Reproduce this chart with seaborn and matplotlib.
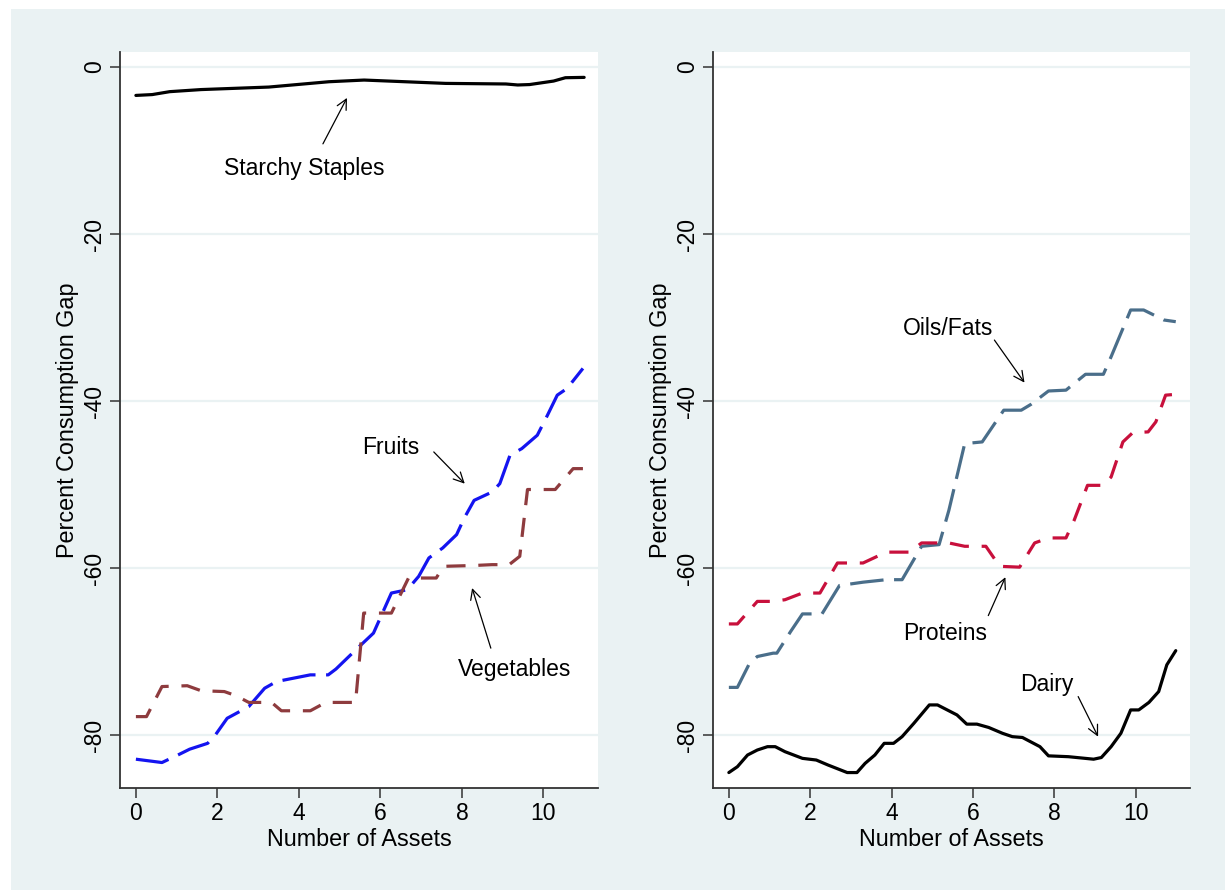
import numpy as np
import pandas as pd
import matplotlib
matplotlib.use("Agg")
import matplotlib.pyplot as plt
from matplotlib.patches import Rectangle
import seaborn as sns

# ---------------- data ----------------
staples_x = [0, 0.4, 0.83, 1.6, 3.26, 4.74, 5.6, 7.6, 9.08, 9.37, 9.66, 10.25, 10.54, 11]
staples_y = [-3.4, -3.3, -2.95, -2.7, -2.4, -1.76, -1.56, -1.96, -2.03, -2.15, -2.1, -1.68, -1.28, -1.24]

fruits_x = [0, 0.64, 1.03, 1.32, 1.76, 1.95, 2.24, 2.77, 3.16, 3.45, 4.28, 4.72, 4.91, 5.44, 5.83,
            6.27, 6.66, 6.94, 7.19, 7.53, 7.87, 8.06, 8.30, 8.74, 8.93, 9.18, 9.47, 9.85, 10.1,
            10.34, 10.58, 10.97]
fruits_y = [-82.9, -83.3, -82.4, -81.7, -81.0, -80.0, -78.0, -76.6, -74.4, -73.6, -72.8, -72.8,
            -72.1, -69.6, -67.8, -63.0, -62.6, -61.0, -58.8, -57.6, -56.0, -54.0, -51.9, -50.9,
            -49.9, -46.5, -45.7, -44.1, -41.7, -39.3, -38.5, -36.1]

veg_x = [0, 0.26, 0.64, 1.26, 1.6, 2.17, 2.46, 2.77, 3.33, 3.57, 4.28, 4.66, 5.39, 5.59, 6.27,
         6.69, 7.37, 7.55, 8.3, 8.74, 9.16, 9.42, 9.61, 10.29, 10.73, 10.97]
veg_y = [-77.8, -77.8, -74.2, -74.1, -74.7, -74.8, -75.3, -76.1, -76.1, -77.1, -77.1, -76.1,
         -76.1, -65.4, -65.4, -61.2, -61.2, -59.8, -59.7, -59.6, -59.6, -58.6, -50.6, -50.6,
         -48.1, -48.1]

oils_x = [0, 0.21, 0.51, 0.70, 1.09, 1.18, 1.52, 1.81, 2.29, 2.72, 3.3, 3.87, 4.26, 4.74, 5.17,
          5.41, 5.8, 6.23, 6.76, 7.19, 7.43, 7.86, 8.29, 8.77, 9.21, 9.4, 9.88, 10.2, 10.7, 10.99]
oils_y = [-74.3, -74.3, -71.4, -70.6, -70.2, -70.2, -67.6, -65.5, -65.5, -62.1, -61.7, -61.4,
          -61.4, -57.4, -57.2, -53.1, -45.1, -44.9, -41.1, -41.1, -40.4, -38.8, -38.7, -36.8,
          -36.8, -34.7, -29.1, -29.1, -30.3, -30.5]

prot_x = [0, 0.21, 0.70, 1.09, 1.38, 1.81, 2.24, 2.67, 3.3, 3.87, 4.45, 4.74, 5.41, 5.8, 6.32,
          6.66, 7.15, 7.52, 7.86, 8.29, 8.49, 8.82, 9.21, 9.4, 9.69, 9.93, 10.31, 10.5, 10.74, 10.99]
prot_y = [-66.7, -66.7, -64.0, -64.0, -63.8, -63.0, -63.0, -59.4, -59.4, -58.1, -58.1, -57.0,
          -57.0, -57.4, -57.4, -59.8, -59.9, -57.0, -56.4, -56.4, -54.3, -50.1, -50.1, -49.1,
          -44.9, -43.8, -43.7, -42.5, -39.3, -39.2]

dairy_x = [0, 0.21, 0.46, 0.7, 0.95, 1.14, 1.38, 1.81, 2.15, 2.44, 2.91, 3.15, 3.35, 3.59, 3.82,
           4.05, 4.26, 4.55, 4.93, 5.13, 5.37, 5.61, 5.85, 6.1, 6.39, 6.73, 6.97, 7.22, 7.65, 7.86,
           8.35, 8.97, 9.16, 9.4, 9.64, 9.88, 10.08, 10.33, 10.57, 10.77, 10.99]
dairy_y = [-84.5, -83.8, -82.4, -81.8, -81.4, -81.4, -82.0, -82.8, -83.0, -83.6, -84.5, -84.5,
           -83.4, -82.4, -81.0, -81.0, -80.2, -78.6, -76.4, -76.4, -77.0, -77.6, -78.7, -78.7,
           -79.1, -79.8, -80.2, -80.3, -81.4, -82.5, -82.6, -82.9, -82.7, -81.4, -79.8, -77.0,
           -77.0, -76.1, -74.8, -71.6, -69.9]

y_ticks = [0, -20, -40, -60, -80]
x_ticks = [0, 2, 4, 6, 8, 10]
x_label = "Number of Assets"
y_label = "Percent Consumption Gap"

# ---------------- style ----------------
sns.set_theme(style="white")
plt.rcParams['font.family'] = ['Liberation Sans', 'DejaVu Sans']

BG = "#EAF2F3"
AXC = "#333333"

fig = plt.figure(figsize=(12.25, 8.9), dpi=100, facecolor="white")
fig.patches.append(Rectangle((11 / 1225, 0), 1 - 11 / 1225, (890 - 9) / 890,
                             transform=fig.transFigure, facecolor=BG, edgecolor="none",
                             zorder=-10))

ax1 = fig.add_axes([120 / 1225, 102 / 890, 478 / 1225, 736 / 890])
ax2 = fig.add_axes([713 / 1225, 102 / 890, 477 / 1225, 736 / 890])

LW = 2.3
LONG = (0, (10.5, 3.3))
SHORT = (0, (6, 4))


def draw(ax, x, y, color, ls):
    df = pd.DataFrame({"x": x, "y": y})
    sns.lineplot(data=df, x="x", y="y", ax=ax, color=color, linewidth=LW,
                 linestyle=ls, estimator=None, sort=False)


draw(ax1, staples_x, staples_y, "black", "-")
draw(ax1, fruits_x, fruits_y, "#1414F0", LONG)
draw(ax1, veg_x, veg_y, "#8E3B3E", SHORT)

draw(ax2, oils_x, oils_y, "#4A6E8A", LONG)
draw(ax2, prot_x, prot_y, "#C8103C", SHORT)
draw(ax2, dairy_x, dairy_y, "black", "-")


def annot(ax, text, txy, hxy, axy):
    ax.text(txy[0], txy[1], text, fontsize=16.5, ha="center", va="center", color="black")
    ax.annotate("", xy=hxy, xytext=axy,
                arrowprops=dict(arrowstyle="->", color="black", lw=0.9,
                                mutation_scale=18, shrinkA=0, shrinkB=0))


annot(ax1, "Starchy Staples", (4.12, -12.1), (5.18, -3.7), (4.59, -9.2))
annot(ax1, "Fruits", (6.26, -45.6), (8.07, -49.9), (7.31, -46.1))
annot(ax1, "Vegetables", (9.3, -72.2), (8.25, -62.4), (8.71, -69.6))

annot(ax2, "Oils/Fats", (5.38, -31.3), (7.27, -37.8), (6.53, -32.7))
annot(ax2, "Proteins", (5.31, -67.9), (6.8, -61.1), (6.38, -65.7))
annot(ax2, "Dairy", (7.83, -74.0), (9.08, -80.2), (8.59, -75.4))

for ax in (ax1, ax2):
    ax.set_facecolor("white")
    ax.set_xlim(-0.39, 11.34)
    ax.set_ylim(-86.35, 1.8)
    ax.set_yticks(y_ticks)
    ax.set_xticks(x_ticks)
    ax.set_yticklabels([str(v) for v in y_ticks], rotation=90, va="center")
    ax.grid(axis="y", color=BG, linewidth=1.6)
    ax.grid(axis="x", visible=False)
    ax.set_axisbelow(True)
    for s in ("top", "right"):
        ax.spines[s].set_visible(False)
    for s in ("left", "bottom"):
        ax.spines[s].set_color(AXC)
        ax.spines[s].set_linewidth(1.3)
    ax.tick_params(axis="both", which="major", direction="out", length=7, width=1.1,
                   color=AXC, labelsize=16.5, labelcolor="black", pad=3,
                   left=True, bottom=True)
    ax.set_xlabel(x_label, fontsize=16.8, labelpad=2, color="black")
    ax.set_ylabel(y_label, fontsize=16.8, labelpad=3, color="black")

fig.savefig("out.png", dpi=100, facecolor="white")
